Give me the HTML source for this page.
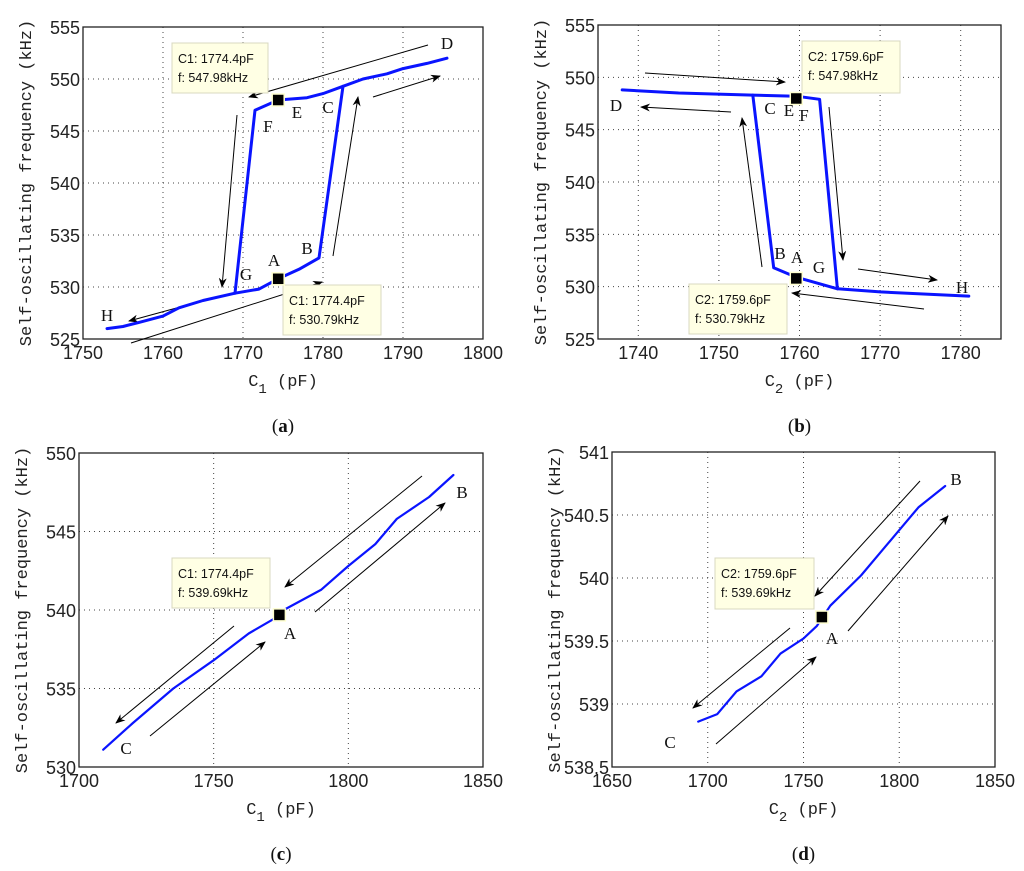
<!DOCTYPE html>
<html><head><meta charset="utf-8">
<style>
html,body{margin:0;padding:0;background:#fff;}
svg{display:block;}
.tick{font-family:"Liberation Sans",sans-serif;font-size:18px;fill:#222;}
.ytitle,.xtitle{font-family:"Liberation Mono",monospace;font-size:17px;fill:#222;}
.pt{font-family:"Liberation Serif",serif;font-size:17px;fill:#111;}
.tip{font-family:"Liberation Sans",sans-serif;font-size:12.5px;fill:#111;}
.cap{font-family:"Liberation Serif",serif;font-size:19px;fill:#111;}
</style></head>
<body>
<svg id="fig" width="1024" height="871" viewBox="0 0 1024 871" xmlns="http://www.w3.org/2000/svg">
<defs>
<marker id="ah" markerWidth="10" markerHeight="8" refX="9" refY="4" orient="auto" markerUnits="userSpaceOnUse">
<path d="M0,0 L10,4 L0,8 L3,4 Z" fill="#000"/>
</marker>
</defs>
</svg>
<script>
// ---- Panel (a) data: C1 (pF) vs f (kHz)
const aUpC = [1753,1755,1757,1760,1762,1765,1769,1772,1774.4,1777,1779.5,1782.5,1785,1788,1790,1793,1795.5];
const aUpF = [526,526.2,526.6,527.2,528,528.7,529.4,529.8,530.79,531.7,532.8,549.3,550,550.5,551,551.5,552];
const aDnC = [1782.5,1780,1778,1774.4,1771.5,1769];
const aDnF = [549.3,548.6,548.2,547.98,547,529.4];
// ---- Panel (b) data: C2 vs f
const bUpC = [1738,1745,1754.2,1759.6,1762.5,1764.7,1770,1778,1781];
const bUpF = [548.8,548.5,548.3,548.2,547.9,529.8,529.5,529.2,529.1];
const bDnC = [1754.2,1756.8,1759.6,1764.7];
const bDnF = [548.3,531.8,530.9,529.8];
// ---- Panel (c) data
const cC = [1709,1720,1735,1750,1763,1772,1776,1790,1800,1810,1818,1830,1839];
const cF = [531.1,532.8,535,536.8,538.5,539.4,540,541.3,542.8,544.2,545.8,547.2,548.6];
// ---- Panel (d) data
const dC = [1695,1705,1715,1728,1738,1750,1757,1764,1780,1790,1800,1810,1824];
const dF = [538.86,538.92,539.1,539.22,539.4,539.52,539.62,539.78,540.02,540.2,540.38,540.56,540.73];
// ticks
const aXTicks = [1750,1760,1770,1780,1790,1800];
const aYTicks = [525,530,535,540,545,550,555];
const bXTicks = [1740,1750,1760,1770,1780];
const bYTicks = [525,530,535,540,545,550,555];
const cXTicks = [1700,1750,1800,1850];
const cYTicks = [530,535,540,545,550];
const dXTicks = [1650,1700,1750,1800,1850];
const dYTicks = [538.5,539,539.5,540,540.5,541];
// data tips
const aTips = [[1774.4,547.98],[1774.4,530.79]];
const bTips = [[1759.6,547.98],[1759.6,530.79]];
const cTips = [[1774.4,539.69]];
const dTips = [[1759.6,539.69]];

const NS='http://www.w3.org/2000/svg';
const fig=document.getElementById('fig');
function mk(tag,attrs,parent){const e=document.createElementNS(NS,tag);for(const k in attrs)e.setAttribute(k,attrs[k]);(parent||fig).appendChild(e);return e;}

function panel(id,box,xd,yd,xt,yt,series,tips,tipText,tipBoxes,labels,arrows,sub,cap,lw){
  const g=mk('g',{});
  
  
  const X=v=>box.x0+(v-xd[0])/(xd[1]-xd[0])*(box.x1-box.x0);
  const Y=v=>box.y1-(v-yd[0])/(yd[1]-yd[0])*(box.y1-box.y0);
  xt.forEach(t=>{const x=X(t);
    if(x>box.x0+1&&x<box.x1-1){const l=mk('line',{x1:x,x2:x,y1:box.y0,y2:box.y1,stroke:'#444','stroke-width':1,'stroke-dasharray':'1,4'},g);
    }
    const tx=mk('text',{x:x,y:box.y1+20,'text-anchor':'middle',class:'tick'},g);tx.textContent=t;
    });
  yt.forEach(t=>{const y=Y(t);
    if(y>box.y0+1&&y<box.y1-1){const l=mk('line',{x1:box.x0,x2:box.x1,y1:y,y2:y,stroke:'#444','stroke-width':1,'stroke-dasharray':'1,4'},g);
    }
    const tx=mk('text',{x:box.x0-3,y:y+7,'text-anchor':'end',class:'tick'},g);tx.textContent=t;
    });
  const fr=mk('rect',{x:box.x0,y:box.y0,width:box.x1-box.x0,height:box.y1-box.y0,fill:'none',stroke:'#222','stroke-width':1.3},g);
  
  arrows.forEach(a=>{const l=mk('line',{x1:a[0],y1:a[1],x2:a[2],y2:a[3],stroke:'#000','stroke-width':1,'marker-end':'url(#ah)'},g);
    });
  series.forEach((s,i)=>{const d=s[0].map((c,j)=>(j?'L':'M')+X(c).toFixed(1)+','+Y(s[1][j]).toFixed(1)).join(' ');
    const p=mk('path',{d:d,fill:'none',stroke:'#0a14ff','stroke-width':lw,'stroke-linejoin':'round','stroke-linecap':'round'},g);
    });
  tips.forEach((t,i)=>{const b=tipBoxes[i];
    const r=mk('rect',{x:b[0],y:b[1],width:b[2],height:b[3],fill:'#ffffe4',stroke:'#d8d8c0','stroke-width':1},g);
    
    const t1=mk('text',{x:b[0]+6,y:b[1]+20,class:'tip'},g);t1.textContent=tipText[i][0];
    
    const t2=mk('text',{x:b[0]+6,y:b[1]+39,class:'tip'},g);t2.textContent=tipText[i][1];
    
    const m=mk('rect',{x:X(t[0])-6,y:Y(t[1])-6,width:12,height:12,fill:'#000',stroke:'#ffffd0','stroke-width':1.5},g);
    });
  labels.forEach(l=>{const t=mk('text',{x:l[1],y:l[2]+6,'text-anchor':'middle',class:'pt'},g);t.textContent=l[0];
    });
  const cy=(box.y0+box.y1)/2;
  const yt2=mk('text',{x:0,y:0,'text-anchor':'middle',class:'ytitle',transform:'translate('+(box.x0-52)+','+cy+') rotate(-90)'},g);
  yt2.textContent='Self-oscillating frequency (kHz)';
  
  const cx=(box.x0+box.x1)/2;
  const xt2=mk('text',{x:cx,y:box.y1+47,'text-anchor':'middle',class:'xtitle'},g);
  xt2.innerHTML='C<tspan dy="7" font-size="14">'+sub+'</tspan><tspan dy="-7"> (pF)</tspan>';
  
  const cp=mk('text',{x:cx,y:box.y1+93,'text-anchor':'middle',class:'cap'},g);
  cp.innerHTML='(<tspan font-weight="bold">'+cap+'</tspan>)';
  
}

panel('a',{x0:83,x1:483,y0:27,y1:339},[1750,1800],[525,555],aXTicks,aYTicks,
  [[aUpC,aUpF],[aDnC,aDnF]],aTips,[['C1: 1774.4pF','f: 547.98kHz'],['C1: 1774.4pF','f: 530.79kHz']],
  [[172,43,96,50],[283,285,98,50]],
  [['D',447,43],['E',297,112],['C',328,107],['F',268,126],['B',307,248],['A',274,260],['G',246,274],['H',107,315]],
  [[428,45,249,97],[237,115,222,287],[213,298,129,321],[131,343,322,282],[333,256,358,97],[373,97,440,76]],
  '1','a',3);
panel('b',{x0:598,x1:1001,y0:25,y1:339},[1735,1785],[525,555],bXTicks,bYTicks,
  [[bUpC,bUpF],[bDnC,bDnF]],bTips,[['C2: 1759.6pF','f: 547.98kHz'],['C2: 1759.6pF','f: 530.79kHz']],
  [[802,41,98,52],[689,284,98,50]],
  [['D',616,105],['C',770,108],['E',789,110],['F',804,115],['B',780,253],['A',797,257],['G',819,267],['H',962,287]],
  [[645,73,785,82],[731,112,641,107],[762,267,742,118],[829,107,843,260],[858,269,937,280],[924,309,792,293]],
  '2','b',3);
panel('c',{x0:79,x1:483,y0:453,y1:767},[1700,1850],[530,550],cXTicks,cYTicks,
  [[cC,cF]],cTips,[['C1: 1774.4pF','f: 539.69kHz']],
  [[172,558,98,50]],
  [['B',462,492],['A',290,633],['C',126,748]],
  [[422,476,285,587],[315,612,445,503],[234,626,116,723],[150,736,265,642]],
  '1','c',2.2);
panel('d',{x0:612,x1:995,y0:452,y1:767},[1650,1850],[538.5,541],dXTicks,dYTicks,
  [[dC,dF]],dTips,[['C2: 1759.6pF','f: 539.69kHz']],
  [[715,558,99,51]],
  [['B',956,479],['A',832,638],['C',670,742]],
  [[920,481,815,596],[848,631,948,516],[790,628,693,708],[716,744,816,657]],
  '2','d',2.2);
</script>
</body></html>
